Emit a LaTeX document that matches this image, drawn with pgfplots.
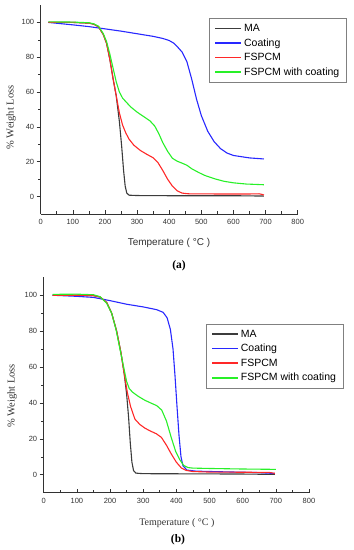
\documentclass[border=0pt]{standalone}
\usepackage{pgfplots}
\pgfplotsset{compat=1.18}
\usepackage{fontspec}
\setmainfont{Liberation Sans}
\newfontfamily\timesfont{Liberation Serif}
\definecolor{maC}{RGB}{60,60,60}
\definecolor{coC}{RGB}{40,40,255}
\definecolor{fsC}{RGB}{255,40,40}
\definecolor{fwC}{RGB}{40,240,40}
\definecolor{axC}{RGB}{50,50,50}
\pgfplotsset{
  tgastyle/.style={
    scale only axis,
    xmin=0, xmax=800, ymin=-10, ymax=110,
    axis x line=bottom, axis y line=left,
    axis line style={-, axC, line width=0.7pt},
    xtick={0,100,...,800}, ytick={0,20,...,100},
    minor x tick num=1, minor y tick num=1,
    tick align=inside,
    major tick length=4pt, minor tick length=2.5pt,
    tick style={axC, line width=0.6pt},
    every major y tick/.append style={xshift=-4pt},
    every minor y tick/.append style={xshift=-2.5pt},
    /pgf/number format/assume math mode=true,
    ticklabel style={font=\fontsize{7.5}{9}\selectfont, text=axC},
    xticklabel style={yshift=-2pt},
    yticklabel style={xshift=-3pt},
    legend cell align=left,
    legend image code/.code={\draw[#1, line width=1.5pt] (0pt,0pt) -- (26pt,0pt);},
    legend style={draw=gray, line width=0.5pt, fill=white,
      font=\fontsize{10.5}{12}\selectfont, inner xsep=5pt, inner ysep=3.5pt,
      row sep=1.6pt},
  },
}
\begin{document}
\begin{tikzpicture}
\path[use as bounding box] (0pt,0pt) rectangle (354pt,550pt);
% ---------------- panel (a)
\begin{axis}[tgastyle,
  at={(40.7pt,336pt)}, anchor=south west,
  width=257pt, height=209pt,
  xlabel={Temperature ( °C )},
  ylabel={\timesfont \% Weight Loss},
  xlabel style={at={(axis description cs:0.499,-0.139)}, anchor=center, font=\fontsize{10}{12}\selectfont, text=axC},
  ylabel style={at={(axis description cs:-0.1156,0.462)}, anchor=center, rotate=0, font=\fontsize{10.5}{12}\selectfont, text=axC},
  legend style={at={(axis description cs:1.19,0.936)}, anchor=north east},
]
\addplot[color=maC, line width=1.1pt, mark=none] coordinates {
(24,100) (100,100) (150,99.6) (165,99) (180,97.5) (195,93) (205,88) (215,79)
(225,68) (235,58) (245,43) (252,29) (258,15) (263,6) (268,2) (275,0.8)
(300,0.6) (400,0.5) (500,0.5) (600,0.5) (695,0.3)};
\addlegendentry{MA}
\addplot[color=coC, line width=1.1pt, mark=none] coordinates {
(24,100) (100,98.6) (150,97.6) (200,96.3) (250,95) (300,93.5) (350,92) (380,90.8)
(400,89.6) (415,88) (428,85.5) (440,83) (455,77.5) (470,67.5) (485,56) (500,46.5)
(520,37.5) (540,31.5) (560,27.5) (580,25) (600,23.6) (650,22.2) (695,21.6)};
\addlegendentry{Coating}
\addplot[color=fsC, line width=1.1pt, mark=none] coordinates {
(24,100) (100,100) (150,99.6) (165,99) (180,97.5) (195,93) (205,88) (215,79)
(225,68) (235,58) (245,48) (255,41) (265,36.5) (275,33) (290,29.5) (310,26.5)
(330,24.3) (350,22.3) (365,19.5) (380,15) (395,10) (410,6) (425,3.3) (440,2)
(460,1.6) (550,1.5) (650,1.5) (680,1.6) (690,1.2) (695,0.9)};
\addlegendentry{FSPCM}
\addplot[color=fwC, line width=1.1pt, mark=none] coordinates {
(24,100.3) (100,100.2) (150,99.8) (165,99.2) (180,97.8) (195,93.5) (205,89)
(215,82) (225,74) (235,66) (245,60) (255,56.5) (265,54.5) (280,51.5) (300,48.5)
(320,46) (340,43.5) (355,40.5) (368,36) (380,31) (395,26) (410,22) (425,20.3)
(440,19.2) (455,18) (470,16) (490,14) (510,12.2) (540,10.3) (570,8.8) (600,7.9)
(640,7.2) (695,6.8)};
\addlegendentry{FSPCM with coating}
\end{axis}
\node[font=\timesfont\bfseries\fontsize{11.5}{13}\selectfont] at (179pt,284pt) {(a)};
% ---------------- panel (b)
\begin{axis}[tgastyle,
  at={(43.7pt,57.3pt)}, anchor=south west,
  width=265.3pt, height=215.4pt,
  xlabel={\timesfont Temperature ( °C )},
  ylabel={\timesfont \% Weight Loss},
  xlabel style={at={(axis description cs:0.502,-0.141)}, anchor=center, font=\fontsize{10}{12}\selectfont, text=axC},
  ylabel style={at={(axis description cs:-0.119,0.449)}, anchor=center, rotate=0, font=\fontsize{10.5}{12}\selectfont, text=axC},
  legend style={at={(axis description cs:1.129,0.783)}, anchor=north east},
]
\addplot[color=maC, line width=1.1pt, mark=none] coordinates {
(27,100) (100,100) (150,99.8) (170,99) (190,96) (205,90) (220,80) (233,68)
(243,56) (250,45) (256,32) (261,18) (266,7) (271,2.3) (278,0.9) (300,0.6)
(450,0.5) (600,0.4) (697,0.2)};
\addlegendentry{MA}
\addplot[color=coC, line width=1.1pt, mark=none] coordinates {
(27,100) (100,99.4) (150,98.8) (200,97) (250,95) (300,93.5) (340,92) (360,90.5)
(372,87.5) (382,81) (390,70) (396,55) (402,38) (408,22) (414,10) (420,5)
(432,2.6) (460,2) (550,1.6) (650,1.2) (697,0.7)};
\addlegendentry{Coating}
\addplot[color=fsC, line width=1.1pt, mark=none] coordinates {
(27,100) (100,100) (150,99.8) (170,99) (190,96) (205,90) (220,80) (233,68)
(243,56) (252,46) (262,38) (275,31) (290,28) (305,26) (320,24.5) (340,22.8)
(355,20.8) (370,16.5) (385,11.5) (400,7) (415,3.8) (430,2.4) (450,1.8) (500,1.5)
(600,1.4) (680,1.3) (697,0.8)};
\addlegendentry{FSPCM}
\addplot[color=fwC, line width=1.1pt, mark=none] coordinates {
(27,100.5) (100,100.6) (150,100.3) (170,99.2) (190,95.5) (205,90) (218,81)
(230,70) (240,61) (250,52) (258,48) (268,46) (285,43.7) (305,41.5) (325,39.8)
(341,38.5) (356,36) (370,30) (385,20.5) (398,13) (410,8.5) (422,5.2) (435,4)
(450,3.7) (500,3.5) (600,3.2) (700,3)};
\addlegendentry{FSPCM with coating}
\end{axis}
\node[font=\timesfont\bfseries\fontsize{11.5}{13}\selectfont] at (178pt,10pt) {(b)};
\end{tikzpicture}
\end{document}
